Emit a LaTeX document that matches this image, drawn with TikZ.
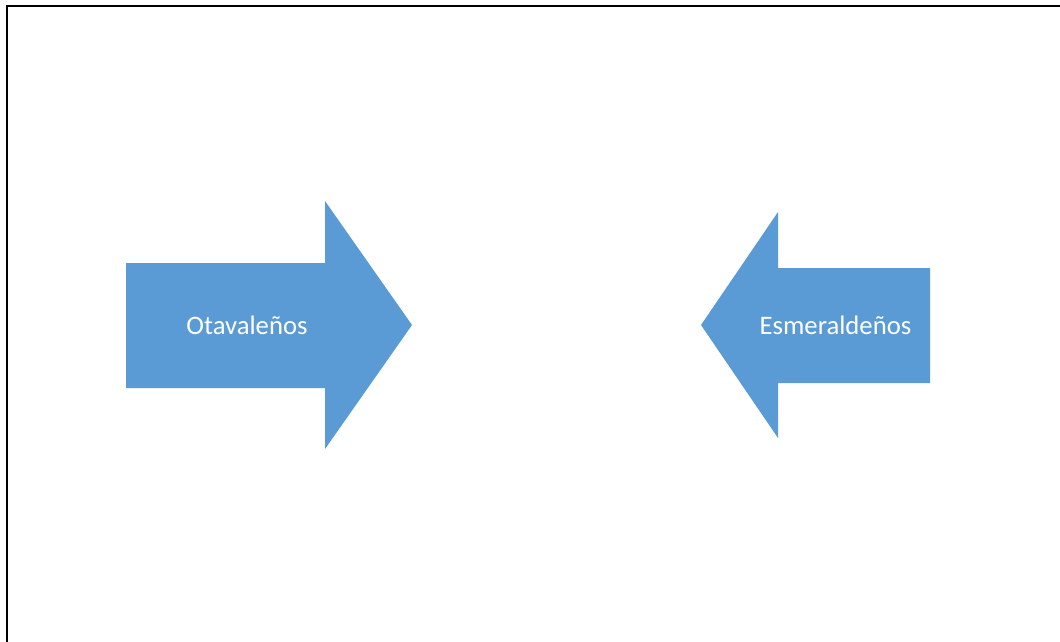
\documentclass[tikz,border=0pt]{standalone}
\usepackage{fontspec}
\setmainfont{Carlito}
\definecolor{arrowblue}{HTML}{5B9BD5}
\begin{document}
\begin{tikzpicture}[x=1pt,y=-1pt,
  blockarrow/.style={fill=arrowblue,draw=none},
  arrowlabel/.style={text=white,font=\fontsize{26.7}{30}\selectfont,inner sep=0pt}]
\useasboundingbox (0,0) rectangle (1060,642);
\fill[white] (0,0) rectangle (1060,642);
% frame: left and top edges only
\draw[line width=2pt] (7,642) -- (7,6) -- (1060,6);
% right-pointing arrow
\fill[blockarrow] (126,263) -- (325,263) -- (325,201) -- (412,325) -- (325,449) -- (325,388) -- (126,388) -- cycle;
\node[arrowlabel] (ota) at (247,325) {Otavaleños};
% left-pointing arrow
\fill[blockarrow] (930,268) -- (778,268) -- (778,212) -- (701,325) -- (778,438) -- (778,383) -- (930,383) -- cycle;
\node[arrowlabel] (esm) at (835.5,325) {Esmeraldeños};
\end{tikzpicture}
\end{document}
